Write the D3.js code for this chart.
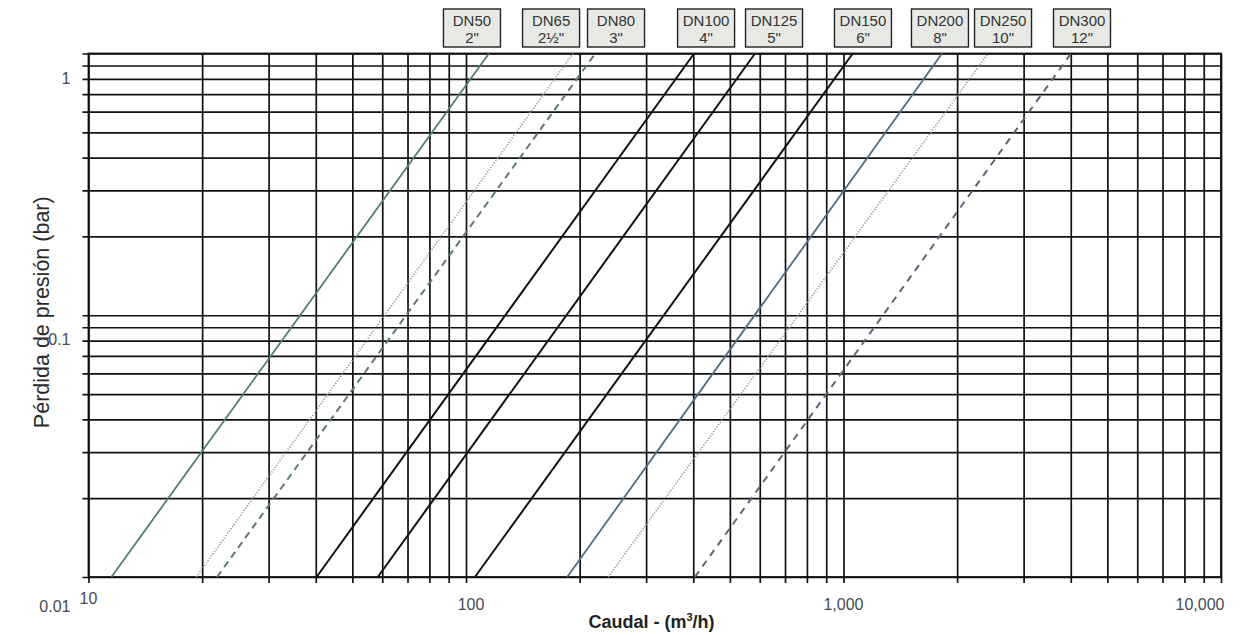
<!DOCTYPE html>
<html>
<head>
<meta charset="utf-8">
<script src="https://cdn.jsdelivr.net/npm/d3@7"></script>
<style>
  body { margin: 0; background: #ffffff; }
  text { font-family: "Liberation Sans", Arial, sans-serif; }
</style>
</head>
<body>
<div id="chart"></div>
<script>
// Pressure loss chart - flow (m3/h) vs pressure drop (bar), log-log
// one straight line per valve size, pressure ~ flow^2

//------------------ data ------------------
var sizes  = ["DN50", "DN65", "DN80", "DN100", "DN125", "DN150", "DN200", "DN250", "DN300"];
var inches = ['2"', '2\u00BD"', '3"', '4"', '5"', '6"', '8"', '10"', '12"'];

// flow where each line crosses 0.01 bar and 1 bar
var flowAtLow  = [11.5, 19.3, 21.9, 40.2, 58.4, 105.6, 185.4, 238, 404];
var flowAtHigh = [115, 192, 220, 402, 583, 1058, 1824, 2415, 4005];
var lowBar  = 0.01;
var highBar = 1;

// flow under each size tag in the header
var tagFlow = [103.7, 168, 249.7, 432.5, 654.6, 1126, 1801, 2646, 4283];

var xTickValues = [10, 100, 1000, 10000];
var xTickText   = ["10", "100", "1,000", "10,000"];
var yTickValues = [0.01, 0.1, 1];
var yTickText   = ["0.01", "0.1", "1"];

//------------------ styling ------------------
var lineColor = ["#4f7f6e", "#8fa29b", "#5e7b72", "#111", "#111", "#111", "#4f6b86", "#8e9ca6", "#56687a"];
var lineDash  = [null, "1.2,1.6", "7,5", null, null, null, null, "1.2,1.6", "7,6"];
var lineWidth = [1.8, 1.7, 2, 2, 2, 2, 1.8, 1.7, 2];

//Setting display window
var svgWidth = 1251;
var svgHeight = 635;

var margin = {
  top: 53.5,
  right: 30,
  bottom: 58,
  left: 88.5
};

var width = svgWidth - margin.left - margin.right;
var height = svgHeight - margin.top - margin.bottom;

var svg = d3.select("#chart")
  .append("svg")
  .attr("width", svgWidth)
  .attr("height", svgHeight);

var chartGroup = svg.append("g")
  .attr("transform", `translate(${margin.left}, ${margin.top})`);

//scales - both logarithmic
var xLogScale = d3.scaleLog()
  .domain([10, 10000])
  .range([0, width]);

var yLogScale = d3.scaleLog()
  .domain([lowBar, highBar])
  .range([height, 0]);

//vertical grid lines (run a little below the bottom edge)
var xGrid = chartGroup.append("g")
  .call(d3.axisTop(xLogScale)
    .tickValues(xLogScale.ticks())
    .tickSize(-(height + 6))
    .tickFormat(""));

//horizontal grid lines (run a little left of the left edge)
var yGrid = chartGroup.append("g")
  .attr("transform", `translate(${width}, 0)`)
  .call(d3.axisLeft(yLogScale)
    .tickValues(yLogScale.ticks())
    .tickSize(width + 6)
    .tickFormat(""));

[xGrid, yGrid].forEach(function(g) {
  g.select(".domain").remove();
  g.selectAll(".tick line")
    .attr("stroke", "#111")
    .attr("stroke-width", 1.7);
});

//plot border
chartGroup.append("rect")
  .attr("x", 0)
  .attr("y", 0)
  .attr("width", width)
  .attr("height", height)
  .attr("fill", "none")
  .attr("stroke", "#111")
  .attr("stroke-width", 1.8);

//pressure loss lines
var lineData = sizes.map(function(s, i) {
  return [[flowAtLow[i], lowBar], [flowAtHigh[i], highBar]];
});

var lineGen = d3.line()
  .x(d => xLogScale(d[0]))
  .y(d => yLogScale(d[1]));

chartGroup.selectAll(".loss")
  .data(lineData)
  .enter()
  .append("path")
  .attr("class", "loss")
  .attr("d", lineGen)
  .attr("fill", "none")
  .attr("stroke", (d, i) => lineColor[i])
  .attr("stroke-width", (d, i) => lineWidth[i])
  .attr("stroke-dasharray", (d, i) => lineDash[i]);

//x tick labels - the "10" sits a bit higher in the original
chartGroup.selectAll(".xlab")
  .data(xTickValues)
  .enter()
  .append("text")
  .attr("class", "xlab")
  .attr("x", (d, i) => xLogScale(d) + (i === 1 ? 5 : 0) + (i === 3 ? -21 : 0))
  .attr("y", (d, i) => height + (i === 0 ? 27 : 33))
  .attr("text-anchor", "middle")
  .attr("font-size", "16px")
  .attr("fill", "#454b55")
  .text((d, i) => xTickText[i]);

//y tick labels - sit lower than their grid line in the original
chartGroup.selectAll(".ylab")
  .data(yTickValues)
  .enter()
  .append("text")
  .attr("class", "ylab")
  .attr("x", -18)
  .attr("y", (d, i) => yLogScale(d) + (i === 0 ? 35 : 30))
  .attr("text-anchor", "end")
  .attr("font-size", "16px")
  .attr("fill", "#454b55")
  .text((d, i) => yTickText[i]);

//axis titles
var xTitle = chartGroup.append("text")
  .attr("x", 563)
  .attr("y", height + 51)
  .attr("text-anchor", "middle")
  .attr("font-size", "18px")
  .attr("font-weight", "bold")
  .attr("fill", "#222");
xTitle.append("tspan").text("Caudal - (m");
xTitle.append("tspan").attr("font-size", "11px").attr("dy", -7).text("3");
xTitle.append("tspan").attr("dy", 7).text("/h)");

chartGroup.append("text")
  .attr("transform", "rotate(-90)")
  .attr("x", -(height / 2 - 3))
  .attr("y", -40)
  .attr("text-anchor", "middle")
  .attr("font-size", "21.5px")
  .attr("fill", "#2a2a2a")
  .text("P\u00E9rdida de presi\u00F3n (bar)");

//size tags along the top
var tagGroup = svg.selectAll(".tag")
  .data(sizes)
  .enter()
  .append("g")
  .attr("class", "tag")
  .attr("transform", (d, i) => `translate(${margin.left + xLogScale(tagFlow[i])}, 9)`);

tagGroup.append("rect")
  .attr("x", -28.5)
  .attr("y", 0)
  .attr("width", 57)
  .attr("height", 38)
  .attr("fill", "#e7e9e5")
  .attr("stroke", "#222")
  .attr("stroke-width", 1.4);

tagGroup.append("text")
  .attr("x", 0)
  .attr("y", 17)
  .attr("text-anchor", "middle")
  .attr("font-size", "15px")
  .attr("fill", "#333")
  .text(d => d);

tagGroup.append("text")
  .attr("x", 0)
  .attr("y", 34)
  .attr("text-anchor", "middle")
  .attr("font-size", "15px")
  .attr("fill", "#333")
  .text((d, i) => inches[i]);
</script>
</body>
</html>
